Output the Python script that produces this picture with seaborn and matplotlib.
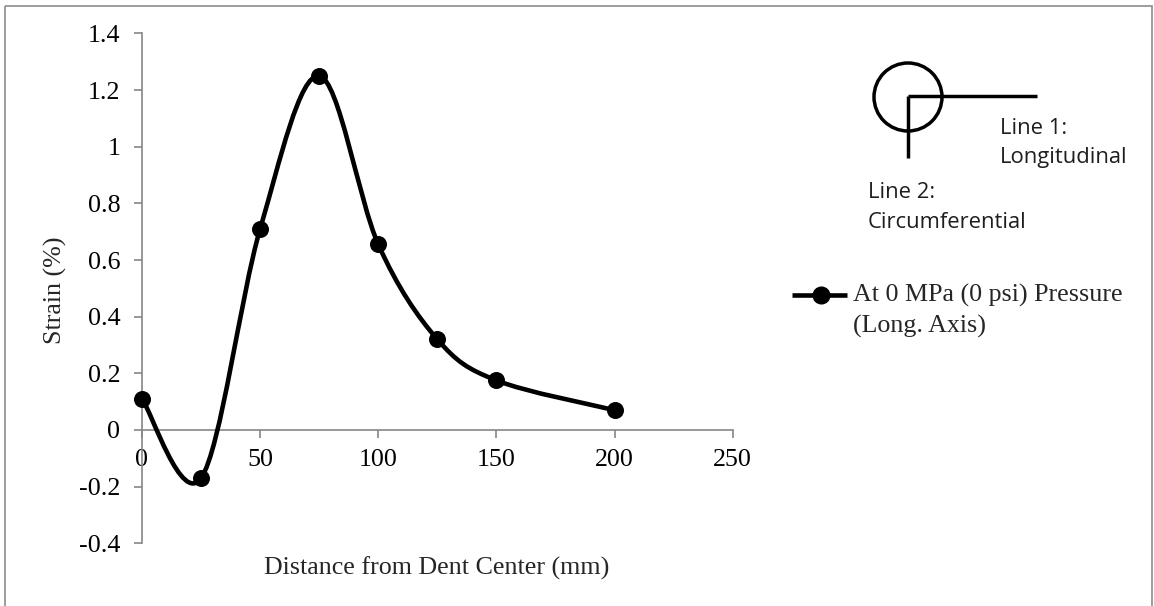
import numpy as np
import matplotlib
matplotlib.use("Agg")
import matplotlib.pyplot as plt
import seaborn as sns
import pandas as pd
from matplotlib.path import Path
from matplotlib.patches import PathPatch, Circle, Rectangle
from matplotlib.lines import Line2D

# ---------------- data ----------------
distance_mm = [0, 25, 50, 75, 100, 125, 150, 200]
strain_pct = [0.11, -0.17, 0.71, 1.25, 0.655, 0.32, 0.175, 0.07]
x_ticks = [0, 50, 100, 150, 200, 250]
y_ticks = [-0.4, -0.2, 0, 0.2, 0.4, 0.6, 0.8, 1.0, 1.2, 1.4]
y_tick_labels = ["-0.4", "-0.2", "0", "0.2", "0.4", "0.6", "0.8", "1", "1.2", "1.4"]
series_line1 = "At 0 MPa (0 psi) Pressure"
series_line2 = "(Long. Axis)"
x_label = "Distance from Dent Center (mm)"
y_label = "Strain (%)"
inset_texts = ["Line 1:", "Longitudinal", "Line 2:", "Circumferential"]

df = pd.DataFrame({"distance": distance_mm, "strain": strain_pct})

sns.set_theme(style="white")
plt.rcParams['font.family'] = ['Liberation Serif', 'DejaVu Serif']

W, H = 1154, 606
FS = 18.7
AXC = '#868686'
fig = plt.figure(figsize=(W / 100, H / 100), dpi=100)
fig.patch.set_facecolor('white')

left_px, right_px, top_px, bot_px = 142, 732.7, 33.4, 543.3
ax = fig.add_axes([left_px / W, 1 - bot_px / H, (right_px - left_px) / W, (bot_px - top_px) / H])
ax.set_facecolor('none')
ax.set_xlim(0, 250)
ax.set_ylim(-0.4, 1.4)

for s in ['top', 'right']:
    ax.spines[s].set_visible(False)
ax.spines['bottom'].set_position(('data', 0))
for s in ['left', 'bottom']:
    ax.spines[s].set_color(AXC)
    ax.spines[s].set_linewidth(1.2)

ax.set_xticks(x_ticks)
ax.set_xticklabels([str(t) for t in x_ticks])
ax.set_yticks(y_ticks)
ax.set_yticklabels(y_tick_labels)
ax.tick_params(axis='both', direction='out', length=5.5, width=1.2, color=AXC,
               labelsize=FS, labelcolor='black')
ax.tick_params(axis='x', pad=8.5)
ax.tick_params(axis='y', pad=10)
ax.tick_params(axis='x', bottom=True)
ax.tick_params(axis='y', left=True)
ax.grid(False)

# smoothed line (Excel-style Bezier smoothing computed in display space)
T = ax.transData
pts = T.transform(np.column_stack([df["distance"].to_numpy(float), df["strain"].to_numpy(float)]))
ext = np.vstack([pts[0], pts, pts[-1]])
verts = [pts[0]]
codes = [Path.MOVETO]
for i in range(len(pts) - 1):
    p_prev, p0, p1, p_next = ext[i], ext[i + 1], ext[i + 2], ext[i + 3]
    c1 = p0 + (p1 - p_prev) / 6.0
    c2 = p1 - (p_next - p0) / 6.0
    verts += [c1, c2, p1]
    codes += [Path.CURVE4] * 3
verts_data = T.inverted().transform(np.array(verts))
ax.add_patch(PathPatch(Path(verts_data, codes), fill=False, edgecolor='black', lw=3.3,
                       capstyle='round', joinstyle='round', zorder=3))

sns.scatterplot(data=df, x="distance", y="strain", ax=ax, color='black', s=150,
                edgecolor='black', linewidth=0, legend=False, zorder=4, clip_on=False)

ax.set_xlabel(x_label, fontsize=FS)
ax.set_ylabel(y_label, fontsize=FS)
ax.xaxis.set_label_coords((437 - left_px) / (right_px - left_px), (bot_px - 568) / (bot_px - top_px))
ax.xaxis.label.set_va('center')
ax.yaxis.set_label_coords((55 - left_px) / (right_px - left_px), (bot_px - 290) / (bot_px - top_px))
ax.yaxis.label.set_va('center')

# ------------- overlay in pixel coordinates -------------
ov = fig.add_axes([0, 0, 1, 1])
ov.set_xlim(0, W)
ov.set_ylim(H, 0)
ov.axis('off')
ov.patch.set_alpha(0)

ov.add_patch(Rectangle((5, 6), W - 7.5, H + 5, fill=False, edgecolor='#8c8c8c', lw=1.2))

# legend
ov.add_line(Line2D([792, 847], [295, 295], color='black', lw=3.3, solid_capstyle='butt'))
ov.add_line(Line2D([821], [295], marker='o', markersize=12, color='black', lw=0))
ov.text(853, 295, series_line1, fontsize=FS, va='center', ha='left')
ov.text(853, 326, series_line2, fontsize=FS, va='center', ha='left')

# inset sketch
ov.add_patch(Circle((908, 97), 34, fill=False, edgecolor='black', lw=2.5))
ov.add_line(Line2D([908, 1037], [96, 96], color='black', lw=2.5, solid_capstyle='butt'))
ov.add_line(Line2D([908, 908], [96, 158], color='black', lw=2.5, solid_capstyle='butt'))
SF = ['Open Sans', 'DejaVu Sans']
ICOL = '#1e1e1e'
IFS = 15.8
ov.text(1000, 129, inset_texts[0], fontsize=IFS, family=SF, color=ICOL, va='center', ha='left')
ov.text(1000, 158, inset_texts[1], fontsize=IFS, family=SF, color=ICOL, va='center', ha='left')
ov.text(868, 192, inset_texts[2], fontsize=IFS, family=SF, color=ICOL, va='center', ha='left')
ov.text(868, 222, inset_texts[3], fontsize=IFS, family=SF, color=ICOL, va='center', ha='left')

fig.savefig("out.png", dpi=100)
